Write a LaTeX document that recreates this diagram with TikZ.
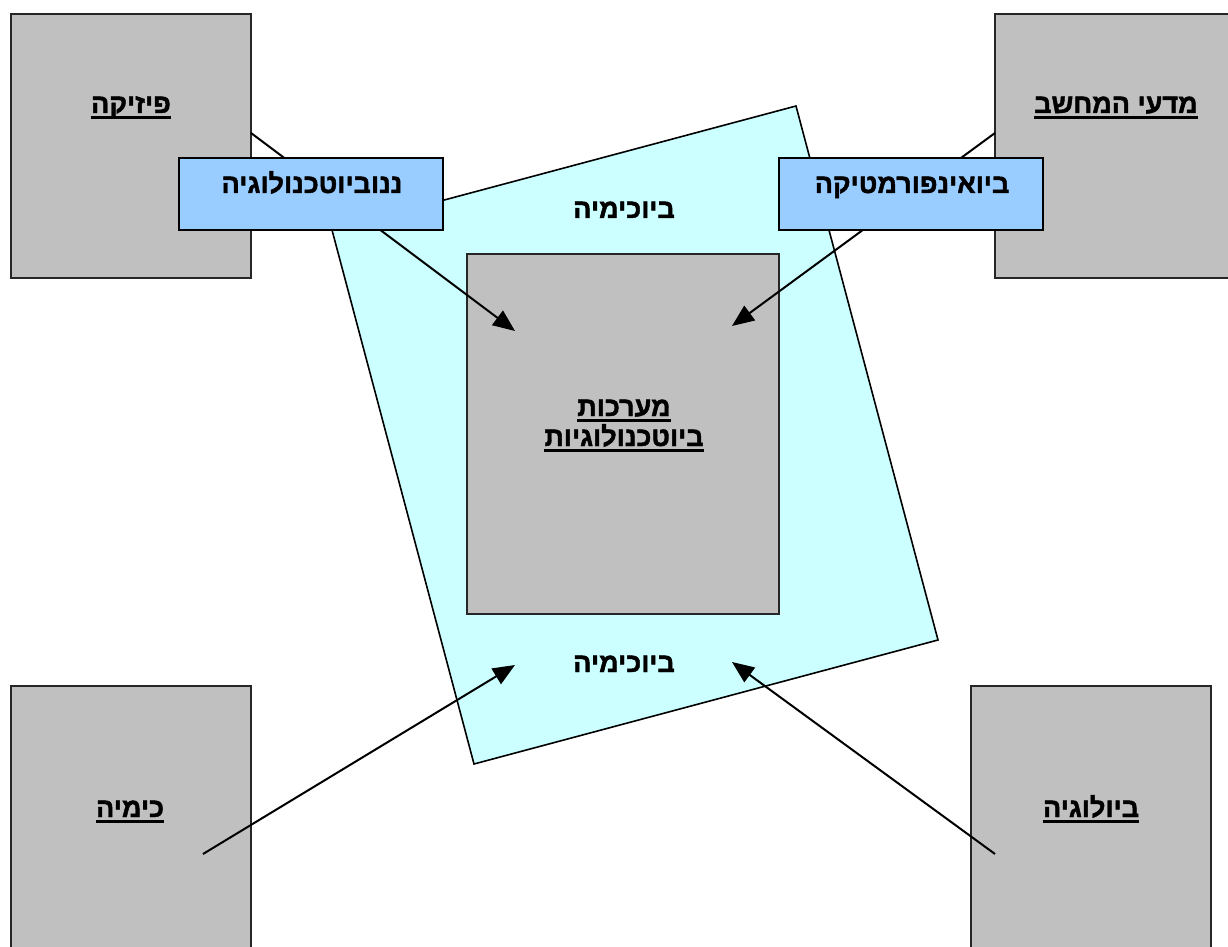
\documentclass[tikz,border=0pt]{standalone}
\usepackage{fontspec}
\usetikzlibrary{arrows.meta}
\TeXXeTstate=1
\newfontfamily\heb[Script=Hebrew, BoldFont={Liberation Sans Bold}, BoldFeatures={FakeBold=1.6}]{Liberation Sans}
% right-to-left Hebrew text, plain and underlined
\newcommand\he[1]{\beginR #1\endR}
\newcommand\heul[1]{\setbox0\hbox{\beginR #1\endR}\dp0=0pt\vtop{\box0\kern1.6pt\hrule height 1.4pt}}
\definecolor{boxgray}{HTML}{C0C0C0}
\definecolor{paleblue}{HTML}{99CCFF}
\definecolor{palecyan}{HTML}{CCFFFF}
\tikzset{
  field/.style={draw=black!85, line width=0.8pt, fill=boxgray, minimum width=120pt, minimum height=132pt, inner sep=0pt},
  bridge/.style={draw=black, line width=0.8pt, fill=paleblue, minimum width=132pt, minimum height=36pt, inner sep=0pt},
  core/.style={draw=black!85, line width=0.8pt, fill=boxgray, minimum width=156pt, minimum height=180pt, inner sep=0pt},
  label/.style={font=\heb\bfseries\fontsize{13.5}{16}\selectfont, anchor=base, inner sep=0pt},
  flow/.style={line width=1pt, -{Triangle[length=11pt,width=9pt]}}
}
\begin{document}
\begin{tikzpicture}[x=0.5pt,y=-0.5pt]
\useasboundingbox (0,0) rectangle (1228,947);
\clip (0,0) rectangle (1228,947);

% outer disciplines
\node[field] (phys) at (131,146) {};
\node[field] (cs)   at (1115,146) {};
\node[field] (chem) at (131,818) {};
\node[field] (bio)  at (1091,818) {};

% tilted biochemistry sheet
\draw[line width=0.8pt, fill=palecyan] (332,230) -- (796,106) -- (938,640) -- (474,764) -- cycle;

% central box
\node[core] (sys) at (623,434) {};

% end points of the connectors
\coordinate (physout) at (251,133);
\coordinate (csout)   at (995,133);
\coordinate (chemout) at (203,854);
\coordinate (bioout)  at (995,854);
\coordinate (sysnw) at (515,331);
\coordinate (sysne) at (732,326);
\coordinate (biosw) at (515,665);
\coordinate (biose) at (732,662);

\draw[flow] (physout) -- (sysnw);
\draw[flow] (csout) -- (sysne);
\draw[flow] (chemout) -- (biosw);
\draw[flow] (bioout) -- (biose);

% bridging fields
\node[bridge] (nano) at (311,194) {};
\node[bridge] (binf) at (911,194) {};

% texts
\node[label] (tphys) at (131,113) {\heul{פיזיקה}};
\node[label] (tcs)   at (1116,113) {\heul{מדעי המחשב}};
\node[label] (tchem) at (130,817) {\heul{כימיה}};
\node[label] (tbio)  at (1091,817) {\heul{ביולוגיה}};
\node[label] (tnano) at (312,193) {\he{ננוביוטכנולוגיה}};
\node[label] (tbinf) at (912,193) {\he{ביואינפורמטיקה}};
\node[label] (tbc1)  at (624,218) {\he{ביוכימיה}};
\node[label] (tbc2)  at (624,672) {\he{ביוכימיה}};
\node[label] (tsys1) at (624,416) {\heul{מערכות}};
\node[label] (tsys2) at (624,446) {\heul{ביוטכנולוגיות}};
\end{tikzpicture}
\end{document}
